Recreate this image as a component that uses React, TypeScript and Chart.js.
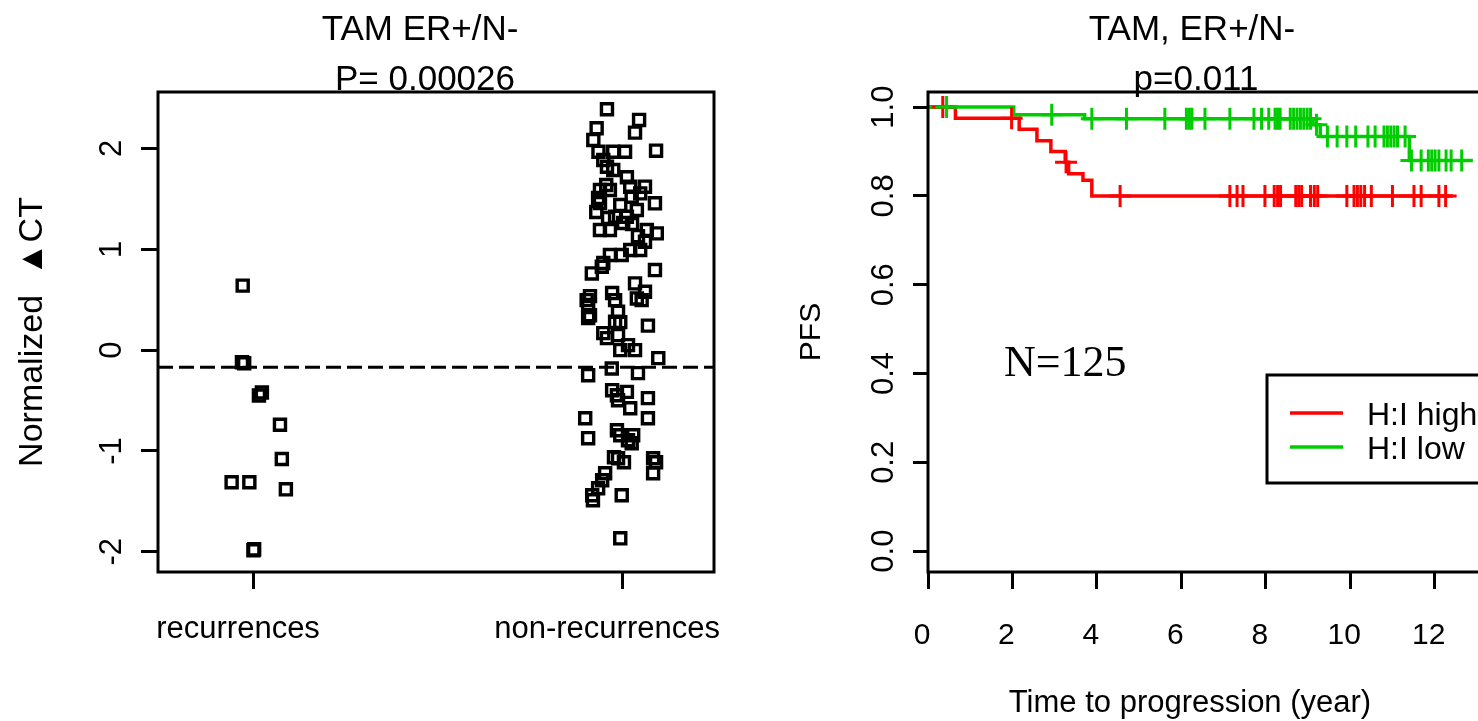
import React, { useEffect, useRef } from "react";
import { Chart, registerables } from "chart.js";

Chart.register(...registerables);

const SANS = "'Liberation Sans', Arial, Helvetica, sans-serif";
const SERIF = "'Liberation Serif', 'Times New Roman', serif";
const BLACK = "#000000";
const RED = "#FF0000";
const GREEN = "#00CD00";

// ---------------- left panel: strip chart ----------------
const leftTitleLines = ["TAM ER+/N-", "P= 0.00026"];
const groupLabels = ["recurrences", "non-recurrences"];
const groupPositions = [1, 2];
const leftYTicks = [-2, -1, 0, 1, 2];
const leftYLabel = "Normalized  \u25B2CT";
const leftXRange = [0.7425, 2.249];
const leftYRange = [-2.2, 2.56];
const cutoffValue = -0.17;

const recurrenceX = [0.972, 0.97, 0.976, 1.016, 1.024, 1.073, 1.078, 0.942, 0.99, 1.089, 1.001, 1.003];
const recurrenceY = [0.64, -0.12, -0.13, -0.45, -0.42, -0.74, -1.08, -1.31, -1.31, -1.38, -1.985, -1.975];

const nonRecurrenceX = [
  1.959, 2.046, 2.035, 1.931, 1.922, 1.936, 1.976, 2.008, 2.092, 1.959,
  1.976, 2.013, 1.94, 1.967, 2.022, 2.062, 1.94, 1.995, 2.026, 2.049,
  2.089, 1.981, 2.013, 2.04, 1.94, 1.967, 2.003, 2.067, 2.094, 2.062,
  2.049, 2.022, 1.999, 1.967, 1.949, 1.918, 1.945, 2.089, 2.035, 2.062,
  1.904, 1.913, 1.981, 1.989, 2.053, 2.04, 2.07, 1.908, 1.981, 1.949,
  1.989, 1.995, 2.035, 2.098, 1.908, 1.972, 2.043, 1.986, 2.013, 2.07,
  2.022, 2.07, 1.9, 1.908, 1.995, 2.03, 2.026, 1.989, 2.084, 2.084,
  1.954, 1.935, 1.921, 1.999, 1.995,
  1.978, 2.005, 1.973, 1.989, 1.986, 2.016, 2.092, 1.959, 2.016, 1.919,
  1.946, 1.935, 1.957, 1.93, 1.962, 2.027, 1.949, 1.908, 1.913, 1.973,
  1.995, 2.043,
];
const nonRecurrenceY = [
  2.389, 2.283, 2.157, 2.2, 2.084, 1.968, 1.968, 1.968, 1.978, 1.819,
  1.787, 1.714, 1.588, 1.588, 1.621, 1.621, 1.459, 1.439, 1.522, 1.555,
  1.456, 1.323, 1.323, 1.39, 1.191, 1.191, 1.261, 1.191, 1.158, 1.075,
  0.993, 0.993, 0.943, 0.943, 0.864, 0.761, 0.827, 0.794, 0.662, 0.579,
  0.496, 0.347, 0.496, 0.38, 0.496, 0.513, 0.243, 0.318, 0.281, 0.169,
  0.149, 0.0, 0.0, -0.079, -0.248, -0.182, -0.228, -0.447, -0.414, -0.476,
  -0.576, -0.675, -0.675, -0.873, -0.844, -0.844, -0.923, -1.072, -1.072, -1.221,
  -1.221, -1.37, -1.489, -1.439, -1.866,
  -1.062, -1.112, -0.397, -0.496, -0.794, -0.893, -1.112, 0.119, 0.05, -1.439,
  -1.29, 1.509, 1.638, 1.37, 1.31, 1.251, 1.886, 0.447, 0.536, 0.566,
  0.278, 1.131,
];

// ---------------- right panel: Kaplan-Meier ----------------
const rightTitleLines = ["TAM, ER+/N-", "p=0.011"];
const rightXTicks = [0, 2, 4, 6, 8, 10, 12];
const rightYTicks = [0, 0.2, 0.4, 0.6, 0.8, 1.0];
const rightXRange = [0, 13.5];
const rightYRange = [-0.047, 1.034];
const rightXLabel = "Time to progression (year)";
const rightYLabel = "PFS";
const sampleLabel = "N=125";
const sampleLabelPos = [3.25, 0.42];
const legendLabels = ["H:I high", "H:I low"];

const highTimes = [0, 0.65, 2.16, 2.58, 2.91, 3.25, 3.33, 3.67, 3.88, 12.43];
const highSurv = [1, 0.975, 0.95, 0.924, 0.9, 0.876, 0.85, 0.835, 0.8, 0.8];
const highCensorTimes = [
  0.35, 1.98, 3.27, 4.55, 7.15, 7.32, 7.46, 7.98, 8.2, 8.28, 8.35, 8.71, 8.78, 8.85,
  9.06, 9.15, 9.23, 9.92, 10.09, 10.17, 10.25, 10.34, 10.5, 11.0, 11.51, 11.68, 12.1, 12.26,
];

const lowTimes = [0, 2.03, 3.71, 9.12, 9.29, 11.4, 12.9];
const lowSurv = [1, 0.983, 0.974, 0.96, 0.934, 0.88, 0.88];
const lowCensorTimes = [
  0.44, 2.93, 3.88, 4.7, 5.61, 6.12, 6.19, 6.25, 6.56, 7.15, 7.72, 7.9, 8.07, 8.22, 8.28,
  8.34, 8.58, 8.66, 8.74, 8.82, 8.9, 8.98, 9.06, 9.2, 9.46, 9.69, 9.92, 10.13, 10.42, 10.59,
  10.8, 10.88, 10.96, 11.04, 11.12, 11.3, 11.45, 11.68, 11.85, 11.93, 12.01, 12.1, 12.27,
  12.39, 12.64,
];

function levelAt(times: number[], surv: number[], t: number): number {
  let v = surv[0];
  for (let i = 0; i < times.length; i++) if (times[i] <= t) v = surv[i];
  return v;
}

const framePlugin = {
  id: "frame",
  afterDatasetsDraw(chart: any) {
    const { ctx, chartArea } = chart;
    ctx.save();
    ctx.strokeStyle = BLACK;
    ctx.lineWidth = 3;
    ctx.strokeRect(chartArea.left, chartArea.top, chartArea.right - chartArea.left, chartArea.bottom - chartArea.top);
    ctx.restore();
  },
};

const leftTextPlugin = {
  id: "leftText",
  afterDraw(chart: any) {
    const ctx = chart.ctx;
    ctx.save();
    ctx.fillStyle = BLACK;
    ctx.textAlign = "center";
    ctx.textBaseline = "alphabetic";
    ctx.font = `35px ${SANS}`;
    ctx.fillText(leftTitleLines[0], 420, 40);
    ctx.fillText(leftTitleLines[1], 425, 90);
    ctx.restore();
  },
};

const rightTextPlugin = {
  id: "rightText",
  afterDraw(chart: any) {
    const ctx = chart.ctx;
    const xs = chart.scales.x;
    const ys = chart.scales.y;
    ctx.save();
    ctx.fillStyle = BLACK;
    ctx.textAlign = "center";
    ctx.textBaseline = "alphabetic";
    ctx.font = `35px ${SANS}`;
    ctx.fillText(rightTitleLines[0], 452, 40);
    ctx.fillText(rightTitleLines[1], 456, 90);
    // x axis title
    ctx.font = `31px ${SANS}`;
    ctx.textBaseline = "middle";
    ctx.fillText(rightXLabel, 450, 703);
    // N label
    ctx.font = `44px ${SERIF}`;
    ctx.fillText(sampleLabel, xs.getPixelForValue(sampleLabelPos[0]), ys.getPixelForValue(sampleLabelPos[1]));
    // legend
    const bx = 527, by = 375, bw = 400, bh = 108;
    ctx.fillStyle = "#ffffff";
    ctx.fillRect(bx, by, bw, bh);
    ctx.strokeStyle = BLACK;
    ctx.lineWidth = 3;
    ctx.strokeRect(bx, by, bw, bh);
    const colors = [RED, GREEN];
    const rows = [413, 447];
    ctx.font = `32px ${SANS}`;
    ctx.textAlign = "left";
    ctx.textBaseline = "middle";
    for (let i = 0; i < legendLabels.length; i++) {
      ctx.strokeStyle = colors[i];
      ctx.lineWidth = 3.5;
      ctx.beginPath();
      ctx.moveTo(550, rows[i]);
      ctx.lineTo(603, rows[i]);
      ctx.stroke();
      ctx.fillStyle = BLACK;
      ctx.fillText(legendLabels[i], 627, rows[i] + 3);
    }
    ctx.restore();
  },
};

export default function App() {
  const leftRef = useRef<HTMLCanvasElement>(null);
  const rightRef = useRef<HTMLCanvasElement>(null);

  useEffect(() => {
    Chart.defaults.font.family = SANS;
    Chart.defaults.color = BLACK;

    const left = new Chart(leftRef.current as HTMLCanvasElement, {
      type: "scatter",
      data: {
        datasets: [
          {
            label: "cutoff",
            data: [
              { x: leftXRange[0], y: cutoffValue },
              { x: leftXRange[1], y: cutoffValue },
            ],
            showLine: true,
            borderColor: BLACK,
            borderWidth: 3,
            borderDash: [15, 6],
            pointRadius: 0,
          },
          {
            label: groupLabels[0],
            data: recurrenceX.map((x, i) => ({ x, y: recurrenceY[i] })),
            showLine: false,
            pointStyle: "rect",
            pointRadius: 7.8,
            pointBorderWidth: 3.4,
            pointBorderColor: BLACK,
            pointBackgroundColor: "rgba(0,0,0,0)",
          },
          {
            label: groupLabels[1],
            data: nonRecurrenceX.map((x, i) => ({ x, y: nonRecurrenceY[i] })),
            showLine: false,
            pointStyle: "rect",
            pointRadius: 7.8,
            pointBorderWidth: 3.4,
            pointBorderColor: BLACK,
            pointBackgroundColor: "rgba(0,0,0,0)",
          },
        ],
      },
      options: {
        responsive: false,
        animation: false,
        events: [],
        layout: { padding: { top: 92, right: 86, left: 0, bottom: 0 } },
        plugins: { legend: { display: false }, tooltip: { enabled: false }, title: { display: false } },
        scales: {
          x: {
            type: "linear",
            min: leftXRange[0],
            max: leftXRange[1],
            afterBuildTicks: (axis: any) => {
              axis.ticks = groupPositions.map((v) => ({ value: v }));
            },
            afterFit: (axis: any) => {
              axis.height = 149;
            },
            grid: { display: true, drawOnChartArea: false, drawTicks: true, tickLength: 17, tickWidth: 3, tickColor: BLACK },
            border: { display: false },
            ticks: {
              autoSkip: false,
              maxRotation: 0,
              minRotation: 0,
              padding: 22,
              labelOffset: -15,
              color: BLACK,
              font: { family: SANS, size: 31 },
              callback: (_v: any, i: number) => groupLabels[i],
            },
          },
          y: {
            type: "linear",
            min: leftYRange[0],
            max: leftYRange[1],
            afterBuildTicks: (axis: any) => {
              axis.ticks = leftYTicks.map((v) => ({ value: v }));
            },
            afterFit: (axis: any) => {
              axis.width = 158;
            },
            grid: { display: true, drawOnChartArea: false, drawTicks: true, tickLength: 17, tickWidth: 3, tickColor: BLACK },
            border: { display: false },
            title: { display: true, text: leftYLabel, color: BLACK, font: { family: SANS, size: 34 }, padding: 12 },
            ticks: {
              autoSkip: false,
              minRotation: 90,
              maxRotation: 90,
              crossAlign: "center",
              padding: 15,
              color: BLACK,
              font: { family: SANS, size: 31 },
              callback: (v: any) => String(v),
            },
          },
        },
      },
      plugins: [framePlugin, leftTextPlugin],
    } as any);

    const right = new Chart(rightRef.current as HTMLCanvasElement, {
      type: "line",
      data: {
        datasets: [
          {
            label: legendLabels[0],
            data: highTimes.map((t, i) => ({ x: t, y: highSurv[i] })),
            borderColor: RED,
            borderWidth: 3.5,
            stepped: true,
            pointRadius: 0,
            fill: false,
            order: 4,
          },
          {
            label: legendLabels[1],
            data: lowTimes.map((t, i) => ({ x: t, y: lowSurv[i] })),
            borderColor: GREEN,
            borderWidth: 3.5,
            stepped: true,
            pointRadius: 0,
            fill: false,
            order: 3,
          },
          {
            label: legendLabels[0] + " censored",
            data: highCensorTimes.map((t) => ({ x: t, y: levelAt(highTimes, highSurv, t) })),
            showLine: false,
            pointStyle: "cross",
            pointRadius: 11,
            pointBorderWidth: 3,
            pointBorderColor: RED,
            pointBackgroundColor: RED,
            order: 2,
          },
          {
            label: legendLabels[1] + " censored",
            data: lowCensorTimes.map((t) => ({ x: t, y: levelAt(lowTimes, lowSurv, t) })),
            showLine: false,
            pointStyle: "cross",
            pointRadius: 11,
            pointBorderWidth: 3,
            pointBorderColor: GREEN,
            pointBackgroundColor: GREEN,
            order: 1,
          },
        ],
      },
      options: {
        responsive: false,
        animation: false,
        events: [],
        layout: { padding: { top: 92, right: 42, left: 0, bottom: 0 } },
        plugins: { legend: { display: false }, tooltip: { enabled: false }, title: { display: false } },
        scales: {
          x: {
            type: "linear",
            min: rightXRange[0],
            max: rightXRange[1],
            afterBuildTicks: (axis: any) => {
              axis.ticks = rightXTicks.map((v) => ({ value: v }));
            },
            afterFit: (axis: any) => {
              axis.height = 149;
            },
            grid: { display: true, drawOnChartArea: false, drawTicks: true, tickLength: 17, tickWidth: 3, tickColor: BLACK },
            border: { display: false },
            ticks: {
              autoSkip: false,
              maxRotation: 0,
              minRotation: 0,
              padding: 29,
              labelOffset: -6,
              color: BLACK,
              font: { family: SANS, size: 30 },
              callback: (v: any) => String(v),
            },
          },
          y: {
            type: "linear",
            min: rightYRange[0],
            max: rightYRange[1],
            afterBuildTicks: (axis: any) => {
              axis.ticks = rightYTicks.map((v) => ({ value: v }));
            },
            afterFit: (axis: any) => {
              axis.width = 188;
            },
            grid: { display: true, drawOnChartArea: false, drawTicks: true, tickLength: 15, tickWidth: 3, tickColor: BLACK },
            border: { display: false },
            title: { display: true, text: rightYLabel, color: BLACK, font: { family: SANS, size: 30 }, padding: 54 },
            ticks: {
              autoSkip: false,
              minRotation: 90,
              maxRotation: 90,
              crossAlign: "center",
              padding: 7,
              color: BLACK,
              font: { family: SANS, size: 31 },
              callback: (v: any) => Number(v).toFixed(1),
            },
          },
        },
      },
      plugins: [framePlugin, rightTextPlugin],
    } as any);

    return () => {
      left.destroy();
      right.destroy();
    };
  }, []);

  return (
    <div style={{ position: "fixed", left: 0, top: 0, width: 1478, height: 721, background: "#ffffff", overflow: "hidden" }}>
      <div style={{ position: "absolute", left: 0, top: 0, width: 800, height: 721 }}>
        <canvas ref={leftRef} width={800} height={721} style={{ display: "block" }} />
      </div>
      <div style={{ position: "absolute", left: 740, top: 0, width: 800, height: 721 }}>
        <canvas ref={rightRef} width={800} height={721} style={{ display: "block" }} />
      </div>
    </div>
  );
}
